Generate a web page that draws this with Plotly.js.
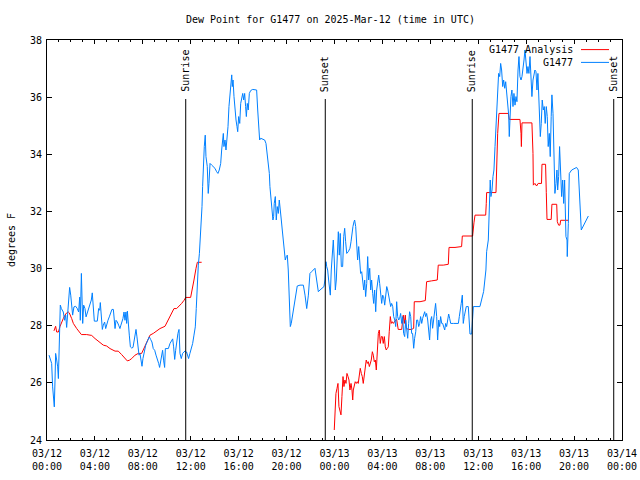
<!DOCTYPE html>
<html>
<head>
<meta charset="utf-8">
<script src="https://cdn.plot.ly/plotly-3.0.1.min.js"></script>
<style>html,body{margin:0;padding:0;background:#fff;}#chart{width:640px;height:480px;}</style>
</head>
<body>
<div id="chart"></div>
<script>
// hours since 2025-03-12 00:00 UTC
const blueHours = [0.17,0.39,0.47,0.56,0.61,0.67,0.72,0.81,0.89,0.95,1.03,1.11,1.2,1.36,1.47,1.56,1.64,1.73,1.81,1.89,1.98,2.06,2.14,2.25,2.39,2.53,2.64,2.73,2.78,2.87,2.92,2.98,3.06,3.17,3.26,3.34,3.45,3.59,3.7,3.78,3.87,3.95,4.09,4.2,4.31,4.4,4.45,4.54,4.62,4.7,4.81,4.9,4.98,5.09,5.2,5.31,5.42,5.54,5.59,5.68,5.76,5.87,5.98,6.09,6.17,6.26,6.34,6.43,6.51,6.59,6.65,6.71,6.79,6.87,6.96,7.07,7.18,7.26,7.35,7.43,7.51,7.6,7.68,7.76,7.85,7.93,8.01,8.13,8.24,8.35,8.46,8.54,8.65,8.76,8.87,8.99,9.1,9.21,9.32,9.4,9.49,9.57,9.65,9.74,9.82,9.88,9.99,10.13,10.27,10.41,10.49,10.57,10.66,10.74,10.82,10.93,11.02,11.1,11.21,11.32,11.43,11.54,11.65,11.74,11.82,11.93,12.04,12.16,12.27,12.38,12.46,12.55,12.63,12.72,12.8,
12.85,12.94,12.99,13.05,13.13,13.21,13.27,13.38,13.46,13.52,13.61,13.75,13.88,14.02,14.16,14.27,14.38,14.5,14.58,14.67,14.72,14.77,14.86,14.94,15.03,15.11,15.19,15.28,15.36,15.42,15.47,15.53,15.61,15.69,15.78,15.86,15.92,16.0,16.09,16.17,16.25,16.34,16.42,16.5,16.58,16.64,16.72,16.8,16.89,17.0,17.17,17.33,17.5,17.59,17.67,17.75,17.84,18.0,18.17,18.28,18.39,18.47,18.56,18.61,18.7,18.78,18.86,18.92,18.97,19.06,19.14,19.22,19.31,19.39,19.47,19.56,19.64,19.72,19.81,19.89,19.98,20.06,20.14,20.23,20.31,20.39,20.48,20.56,20.64,20.73,20.81,20.89,21.12,21.4,
21.54,21.68,21.82,21.95,22.09,22.23,22.37,22.51,22.65,22.79,22.93,23.12,23.2,23.29,23.35,23.43,23.51,23.57,23.65,23.73,23.82,23.9,23.98,24.07,24.15,24.23,24.32,24.4,24.48,24.57,24.68,24.77,24.85,24.93,25.02,25.15,25.29,25.38,25.46,25.54,25.63,25.68,25.77,25.85,25.93,26.02,26.1,26.18,26.27,26.35,26.44,26.52,26.6,26.69,26.77,26.85,26.94,27.02,27.1,27.19,27.27,27.35,27.44,27.52,27.6,27.69,27.77,27.85,27.94,28.02,28.1,28.19,28.27,28.36,28.44,28.52,28.61,28.69,28.77,28.86,28.94,29.03,29.11,29.19,29.27,29.36,29.44,29.52,29.61,29.69,29.77,29.86,29.94,30.02,30.11,30.19,30.27,30.36,30.44,30.52,30.61,30.69,30.78,30.86,30.94,31.03,31.11,31.19,31.28,31.36,31.44,31.53,31.61,31.69,31.78,31.86,31.94,32.03,32.11,32.19,32.28,32.36,32.44,32.53,32.61,32.7,32.78,32.86,32.95,33.03,33.11,33.2,33.28,33.36,33.45,33.53,33.61,33.7,33.92,34.2,34.34,34.42,34.5,34.58,34.67,34.75,34.83,34.92,35.0,35.17,35.25,35.31,35.45,35.53,35.59,36.14,36.45,
36.64,36.7,36.84,36.92,37.0,37.06,37.15,37.23,37.31,37.4,37.48,37.54,37.62,37.7,37.79,37.87,37.95,38.04,38.12,38.21,38.29,38.37,38.46,38.54,38.59,38.65,38.73,38.81,38.9,38.98,39.07,39.15,39.23,39.32,39.4,39.48,39.57,39.65,39.73,39.82,39.9,39.98,40.07,40.15,40.23,40.32,40.4,40.48,40.57,40.65,40.73,40.82,40.9,40.98,41.04,41.09,41.18,41.26,41.34,41.43,41.51,41.59,41.68,41.76,41.84,41.93,42.01,42.09,42.15,42.24,42.32,42.4,42.49,42.57,42.63,42.71,42.79,42.88,42.96,43.05,43.13,43.21,43.27,43.32,43.41,43.43,43.52,43.6,43.8,44.0,44.21,44.35,44.43,44.52,44.6,45.19];
const blueValues = [26.97,26.68,25.86,25.39,25.16,26.1,27.03,26.8,26.56,26.15,27.5,28.72,28.6,28.48,28.19,28.37,27.94,28.48,29.0,29.34,29.07,28.72,28.37,28.66,28.68,28.6,28.48,29.0,28.19,29.83,29.0,28.08,28.72,28.6,28.31,28.43,28.54,28.72,28.9,29.15,28.72,28.16,28.16,28.16,28.6,28.54,28.81,28.31,27.87,28.02,28.13,27.9,28.08,28.19,28.31,28.48,28.57,28.57,28.19,27.9,28.19,28.13,28.02,27.9,28.02,28.13,28.25,28.48,28.19,28.48,28.08,28.51,27.84,27.67,27.26,27.22,27.24,27.5,27.67,27.87,27.61,27.14,26.97,27.03,26.85,26.58,26.85,27.14,27.32,27.43,27.52,27.61,27.52,27.43,27.2,27.14,26.97,26.85,26.68,26.54,26.79,26.91,27.14,26.77,26.54,27.2,27.2,27.2,27.38,27.5,27.54,27.26,26.82,27.14,27.5,27.73,27.87,27.03,26.85,27.03,27.08,27.12,27.08,26.97,26.85,27.03,27.2,27.38,27.67,27.96,28.6,29.48,30.12,30.52,30.99,
31.58,32.17,32.87,33.57,34.27,34.67,33.92,33.57,32.63,32.98,33.68,33.62,33.57,33.51,33.39,33.33,33.45,33.68,34.15,34.56,34.73,34.27,34.5,34.15,34.5,34.97,35.67,36.13,36.48,36.78,36.37,36.6,36.02,35.55,35.2,34.97,34.79,35.32,35.08,35.78,36.02,36.13,35.9,36.13,35.67,35.32,35.78,35.55,36.13,36.23,36.27,36.27,36.25,35.55,34.85,34.5,34.56,34.52,34.5,34.38,34.03,33.68,33.33,32.87,32.4,31.93,31.7,31.82,32.28,32.52,31.7,32.17,31.93,32.4,31.93,31.7,31.35,31.0,30.77,30.3,30.42,30.47,29.95,28.9,27.97,28.08,28.32,28.55,28.78,29.02,29.25,29.39,29.42,29.42,
29.07,28.6,29.07,29.83,29.89,29.95,30.01,29.6,29.19,29.25,29.31,29.37,29.6,30.24,30.07,29.95,29.6,29.25,29.07,29.95,30.65,31.0,30.3,29.25,29.6,30.3,31.29,30.47,31.23,30.07,30.07,31.12,31.41,30.94,30.53,30.59,30.71,30.94,31.35,31.47,31.64,31.7,31.47,30.65,30.3,30.77,30.36,29.83,29.89,29.6,29.25,29.6,29.02,29.48,30.42,29.6,30.01,29.25,29.6,29.13,28.78,29.25,28.49,29.25,29.6,29.77,29.48,29.07,28.78,29.07,29.02,28.72,29.13,29.37,29.25,29.02,28.9,28.67,28.78,28.67,28.32,28.2,27.97,28.84,28.32,28.2,28.26,28.43,28.08,28.32,27.73,27.62,28.2,27.97,27.56,28.08,28.49,28.32,27.73,27.73,27.21,27.56,27.79,28.2,28.2,27.97,28.08,28.32,28.08,28.26,28.37,28.49,28.32,28.43,28.2,27.91,27.5,28.2,28.32,27.91,28.2,28.43,28.78,28.32,27.5,28.2,27.97,28.32,28.08,28.08,27.97,27.85,28.08,27.97,28.2,28.41,28.26,28.08,28.08,28.08,28.08,28.32,28.67,28.78,29.07,28.08,28.32,28.61,28.67,28.67,27.97,27.71,27.71,28.43,28.67,28.67,29.2,
29.95,30.59,31.0,31.82,33.1,32.52,32.75,33.22,33.45,34.27,34.97,35.67,36.25,36.83,36.72,37.18,36.95,36.37,36.6,36.31,36.54,36.13,35.67,35.38,34.62,35.55,36.02,36.25,35.67,36.13,35.72,36.02,35.84,36.95,37.42,36.72,36.6,36.72,36.95,37.3,37.65,37.18,36.83,37.07,36.83,37.42,36.6,36.02,36.6,36.83,36.95,36.89,36.25,36.83,36.02,35.2,34.62,35.08,35.9,35.55,35.67,35.08,35.67,35.32,34.27,34.73,33.92,35.32,36.08,35.43,33.68,32.63,32.98,33.45,32.75,33.22,34.27,33.45,32.52,33.1,32.28,33.1,32.28,31.12,31.0,30.42,31.58,33.33,33.45,33.5,33.54,33.45,32.87,32.17,31.35,31.84];

const redHours1 = [0.58,0.72,0.81,0.95,1.09,1.22,1.36,1.5,1.64,1.78,1.86,2.06,2.2,2.48,2.7,2.87,3.31,3.73,4.01,4.28,4.7,4.98,5.26,5.68,5.95,6.23,6.51,6.7,6.87,7.07,7.35,7.62,7.9,8.1,8.32,8.6,8.87,9.15,9.43,9.85,10.13,10.41,10.6,10.82,11.04,11.24,11.44,11.58,11.99,12.13,12.27,12.44,12.55,12.91];
const redValues1 = [27.82,27.98,27.78,27.78,27.98,28.13,28.25,28.37,28.45,28.48,28.45,28.25,28.08,27.9,27.78,27.69,27.69,27.66,27.55,27.46,27.32,27.29,27.2,27.11,27.11,26.99,26.85,26.77,26.79,26.85,26.97,27.03,27.03,27.2,27.43,27.67,27.73,27.82,27.9,27.98,28.22,28.45,28.6,28.6,28.68,28.78,28.89,28.99,28.99,29.25,29.6,30.01,30.22,30.22];
const redHours2 = [23.98,24.04,24.12,24.21,24.29,24.37,24.46,24.54,24.62,24.71,24.79,24.87,24.96,25.04,25.13,25.21,25.29,25.38,25.46,25.52,25.57,25.65,25.73,25.82,25.9,25.98,26.07,26.15,26.24,26.32,26.4,26.49,26.57,26.65,26.74,26.82,26.91,26.99,27.07,27.16,27.24,27.32,27.41,27.49,27.57,27.66,27.74,27.82,27.91,27.99,28.07,28.16,28.24,28.32,28.41,28.49,28.57,28.66,28.74,28.82,28.91,28.99,29.11,29.19,29.32,29.61,29.74,29.83,29.91,29.99,30.16,30.44,30.61,30.66,31.14,31.58,31.69,32.11,32.58,32.66,33.08,33.5,33.56,34.06,34.61,34.67,35.03,35.53,35.64,35.73,36.14,36.62,36.67,36.7,37.48,37.54,37.62,37.73,38.51,38.59,39.48,39.57,39.6,39.65,40.48,40.57,40.6,40.73,40.87,41.0,41.28,41.32,41.62,41.68,41.74,42.09,42.15,42.55,42.6,42.71,42.82,42.88,43.52];
const redValues2 = [24.35,24.93,25.63,25.81,25.98,25.17,24.93,24.88,25.52,26.22,25.87,26.1,25.98,26.33,26.22,26.1,25.75,25.98,25.75,25.4,25.75,25.98,26.04,25.98,26.04,25.98,26.22,26.51,26.33,26.22,25.98,26.22,26.45,26.8,26.68,26.74,26.57,26.68,26.8,27.09,26.97,26.74,26.8,26.45,27.33,27.73,27.85,27.38,27.62,27.62,27.38,27.62,27.26,27.15,27.21,27.26,27.79,28.32,28.08,28.14,28.08,28.14,28.2,28.22,27.87,27.87,28.37,28.08,28.37,27.91,27.87,27.87,27.91,28.84,28.84,28.88,29.54,29.57,29.6,30.12,30.12,30.15,30.74,30.74,30.77,31.14,31.14,31.14,31.6,31.87,31.87,31.87,32.28,32.66,32.66,33.68,34.73,35.43,35.43,35.22,35.22,34.73,34.27,35.1,35.1,34.03,32.92,32.98,32.89,32.98,32.98,33.65,33.65,32.67,31.72,31.72,32.25,32.25,31.64,31.52,31.52,31.69,31.69];

const sunEventLabels = ["Sunrise","Sunset","Sunrise","Sunset"];
const sunEventHours = [11.58, 23.23, 35.50, 47.31];

const seriesNames = ["G1477 Analysis","G1477"];
const seriesColors = ["#ff0000","#0080ff"];
const chartTitle = "Dew Point for G1477 on 2025-Mar-12 (time in UTC)";
const yTitle = "degrees F";

const T0 = Date.UTC(2025,2,12);
const toX = h => (h === null ? null : T0 + h*3600000);

const redX = redHours1.map(toX).concat([null], redHours2.map(toX));
const redY = redValues1.concat([null], redValues2);

const FONT = "DejaVu Sans Mono, monospace";

const traces = [
  {x: redX, y: redY, type:'scatter', mode:'lines', name: seriesNames[0],
   line:{color: seriesColors[0], width:1}, connectgaps:false, showlegend:false},
  {x: blueHours.map(toX), y: blueValues, type:'scatter', mode:'lines', name: seriesNames[1],
   line:{color: seriesColors[1], width:1}, showlegend:false}
];

const shapes = sunEventHours.map(h => ({
  type:'line', xref:'x', yref:'paper', x0: toX(h), x1: toX(h), y0:0, y1:0.8525,
  line:{color:'#000', width:1}
}));
const annotations = sunEventHours.map((h,i) => ({
  x: toX(h), xref:'x', y: 0.8675, yref:'paper', text: sunEventLabels[i],
  textangle:-90, showarrow:false, xanchor:'center', yanchor:'bottom',
  font:{family:FONT, size:10, color:'#000'}, borderpad:0
}));
// legend (gnuplot style: text then sample line)
const legY = [0.976, 0.944];
seriesNames.forEach((n,i) => {
  annotations.push({x:0.9165, xref:'paper', y:legY[i], yref:'paper', text:n, showarrow:false,
    xanchor:'right', yanchor:'middle', font:{family:FONT, size:10, color:'#000'}, borderpad:0});
  shapes.push({type:'line', xref:'paper', yref:'paper', x0:0.9287, x1:0.9774, y0:legY[i], y1:legY[i],
    line:{color:seriesColors[i], width:1}});
});

const layout = {
  width:640, height:480,
  margin:{l:47, r:18, t:40, b:40},
  paper_bgcolor:'#fff', plot_bgcolor:'#fff',
  font:{family:FONT, size:10, color:'#000'},
  showlegend:false,
  title:{text: chartTitle, x:0.493, xref:'paper', xanchor:'center', y:0.96, yref:'container', yanchor:'middle',
    font:{family:FONT, size:10, color:'#000'}},
  xaxis:{
    type:'date', range:[T0, T0 + 48*3600000],
    tick0: T0, dtick: 4*3600000, tickformat:'%m/%d<br>%H:%M',
    ticks:'inside', ticklen:4, tickcolor:'#000',
    minor:{dtick:3600000, ticks:'inside', ticklen:2, tickcolor:'#000'},
    showline:true, linecolor:'#000', linewidth:1, mirror:'allticks',
    showgrid:false, zeroline:false, ticklabelstandoff:4,
    tickfont:{family:FONT, size:10, color:'#000'}
  },
  yaxis:{
    range:[24,38], dtick:2, tick0:24,
    ticks:'inside', ticklen:5, tickcolor:'#000',
    showline:true, linecolor:'#000', linewidth:1, mirror:'allticks',
    showgrid:false, zeroline:false, ticklabelstandoff:2,
    tickfont:{family:FONT, size:10, color:'#000'},
    title:{text:yTitle, font:{family:FONT, size:10, color:'#000'}, standoff:12}
  },
  shapes: shapes,
  annotations: annotations
};

Plotly.newPlot('chart', traces, layout, {staticPlot:true, displayModeBar:false});
</script>
</body>
</html>
